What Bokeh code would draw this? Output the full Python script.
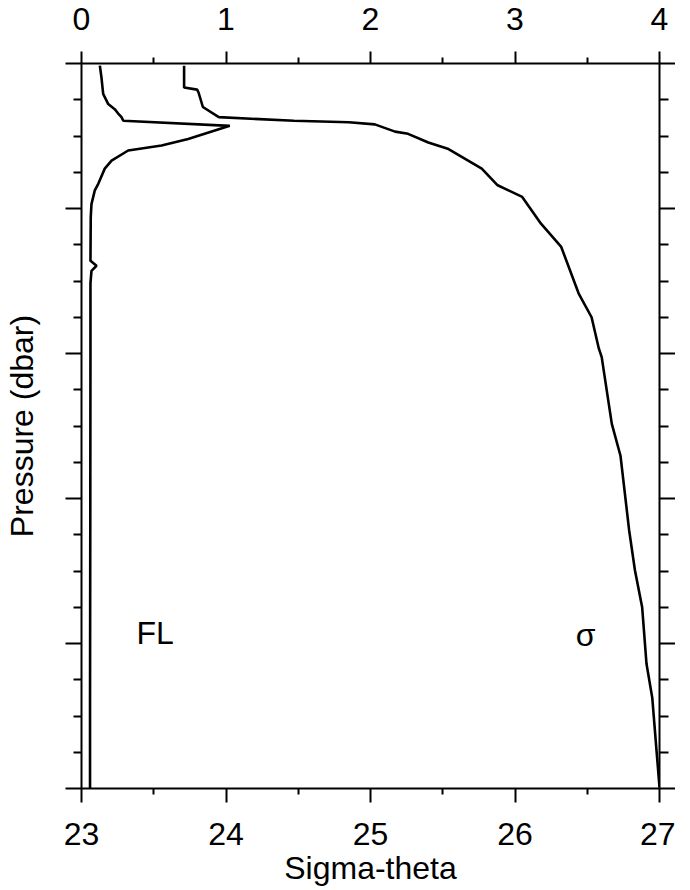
from bokeh.plotting import figure
from bokeh.models import Range1d, LinearAxis, FixedTicker
from bokeh.core.properties import value
from bokeh.embed import file_html
from bokeh.resources import INLINE

# Sigma-theta profile (pressure in dbar, sigma-theta)
sigma_pressure = [0.3, 3.3, 3.6, 4.0, 6.0, 7.4, 7.9, 8.1, 8.4, 9.4, 9.7, 10.9, 11.8, 14.5,
                  16.8, 18.4, 22.1, 25.3, 31.7, 35.0, 39.3, 40.5, 49.7, 54.1, 64.4, 69.9,
                  75.0, 82.8, 87.5, 94.9, 99.8]
sigma_theta = [23.71, 23.71, 23.80, 23.81, 23.84, 23.95, 24.47, 24.85, 25.03, 25.17, 25.26,
               25.40, 25.54, 25.77, 25.88, 26.05, 26.18, 26.32, 26.44, 26.53, 26.58, 26.60,
               26.67, 26.73, 26.79, 26.83, 26.88, 26.91, 26.95, 26.98, 27.00]

# Fluorescence profile (pressure, FL)
fl_pressure = [0.3, 1.9, 4.2, 5.6, 6.3, 6.9, 7.4, 7.9, 8.6, 10.4, 11.3, 12.0, 13.4, 14.5,
               16.6, 17.5, 19.4, 21.2, 27.2, 27.9, 28.6, 30.3, 39.6, 60.3, 87.9, 100.0]
fl_values = [0.127, 0.138, 0.150, 0.185, 0.230, 0.254, 0.277, 0.289, 1.026, 0.738, 0.554,
             0.323, 0.208, 0.161, 0.116, 0.092, 0.069, 0.064, 0.062, 0.104, 0.069, 0.062,
             0.062, 0.061, 0.059, 0.059]

sigma_ticks = [23, 24, 25, 26, 27]
sigma_minor = [23.5, 24.5, 25.5, 26.5]
fl_ticks = [0, 1, 2, 3, 4]
fl_minor = [0.5, 1.5, 2.5, 3.5]
p_ticks = [0, 20, 40, 60, 80, 100]
p_minor = [5, 10, 15, 25, 30, 35, 45, 50, 55, 65, 70, 75, 85, 90, 95]

labels_text = ["FL", "σ"]
labels_x = [23.38, 26.42]
labels_y = [78.6, 78.8]

FONT = "Liberation Sans"
FS = "32px"

p = figure(frame_width=578, frame_height=725, output_backend="svg", toolbar_location=None,
           x_range=Range1d(23, 27), y_range=Range1d(100, 0),
           x_axis_location=None, y_axis_location=None,
           min_border_left=80, min_border_right=16, min_border_top=63, min_border_bottom=60)
p.extra_x_ranges = {"fl": Range1d(0, 4)}
p.xgrid.visible = False
p.ygrid.visible = False
p.outline_line_color = None
p.background_fill_color = "white"
p.border_fill_color = "white"


def style(ax, tick_out, minor_out):
    ax.axis_line_width = 2
    ax.axis_line_color = "black"
    ax.major_tick_line_width = 2
    ax.minor_tick_line_width = 2
    ax.major_tick_in = 0
    ax.minor_tick_in = 0
    ax.major_tick_out = tick_out
    ax.minor_tick_out = minor_out
    ax.major_label_text_font = FONT
    ax.major_label_text_font_size = FS
    ax.major_label_text_color = "black"
    ax.axis_label_text_font = FONT
    ax.axis_label_text_font_size = FS
    ax.axis_label_text_font_style = "normal"
    ax.axis_label_text_color = "black"


bottom = LinearAxis(ticker=FixedTicker(ticks=sigma_ticks, minor_ticks=sigma_minor),
                    axis_label="Sigma-theta")
style(bottom, 14, 6)
bottom.major_label_standoff = 20
bottom.axis_label_standoff = 2
p.add_layout(bottom, "below")

top = LinearAxis(x_range_name="fl", ticker=FixedTicker(ticks=fl_ticks, minor_ticks=fl_minor))
style(top, 12, 6)
top.major_label_standoff = 22
top.major_label_text_line_height = 0.6
p.add_layout(top, "above")

blank = {t: "" for t in p_ticks}

left = LinearAxis(ticker=FixedTicker(ticks=p_ticks, minor_ticks=p_minor),
                  axis_label="Pressure (dbar)", major_label_overrides=blank)
style(left, 16, 8)
left.major_label_standoff = 0
left.axis_label_standoff = 26
p.add_layout(left, "left")

right = LinearAxis(ticker=FixedTicker(ticks=p_ticks, minor_ticks=p_minor),
                   major_label_overrides=blank)
style(right, 16, 9)
right.major_label_standoff = 0
p.add_layout(right, "right")

p.line(sigma_theta, sigma_pressure, line_color="black", line_width=2.6)
p.line(fl_values, fl_pressure, line_color="black", line_width=2.6, x_range_name="fl")

p.text(x=labels_x, y=labels_y, text=labels_text, text_font=value(FONT),
       text_font_size=FS, text_baseline="middle", text_align="left", text_color="black")

open("out.html", "w").write(file_html(p, INLINE))
